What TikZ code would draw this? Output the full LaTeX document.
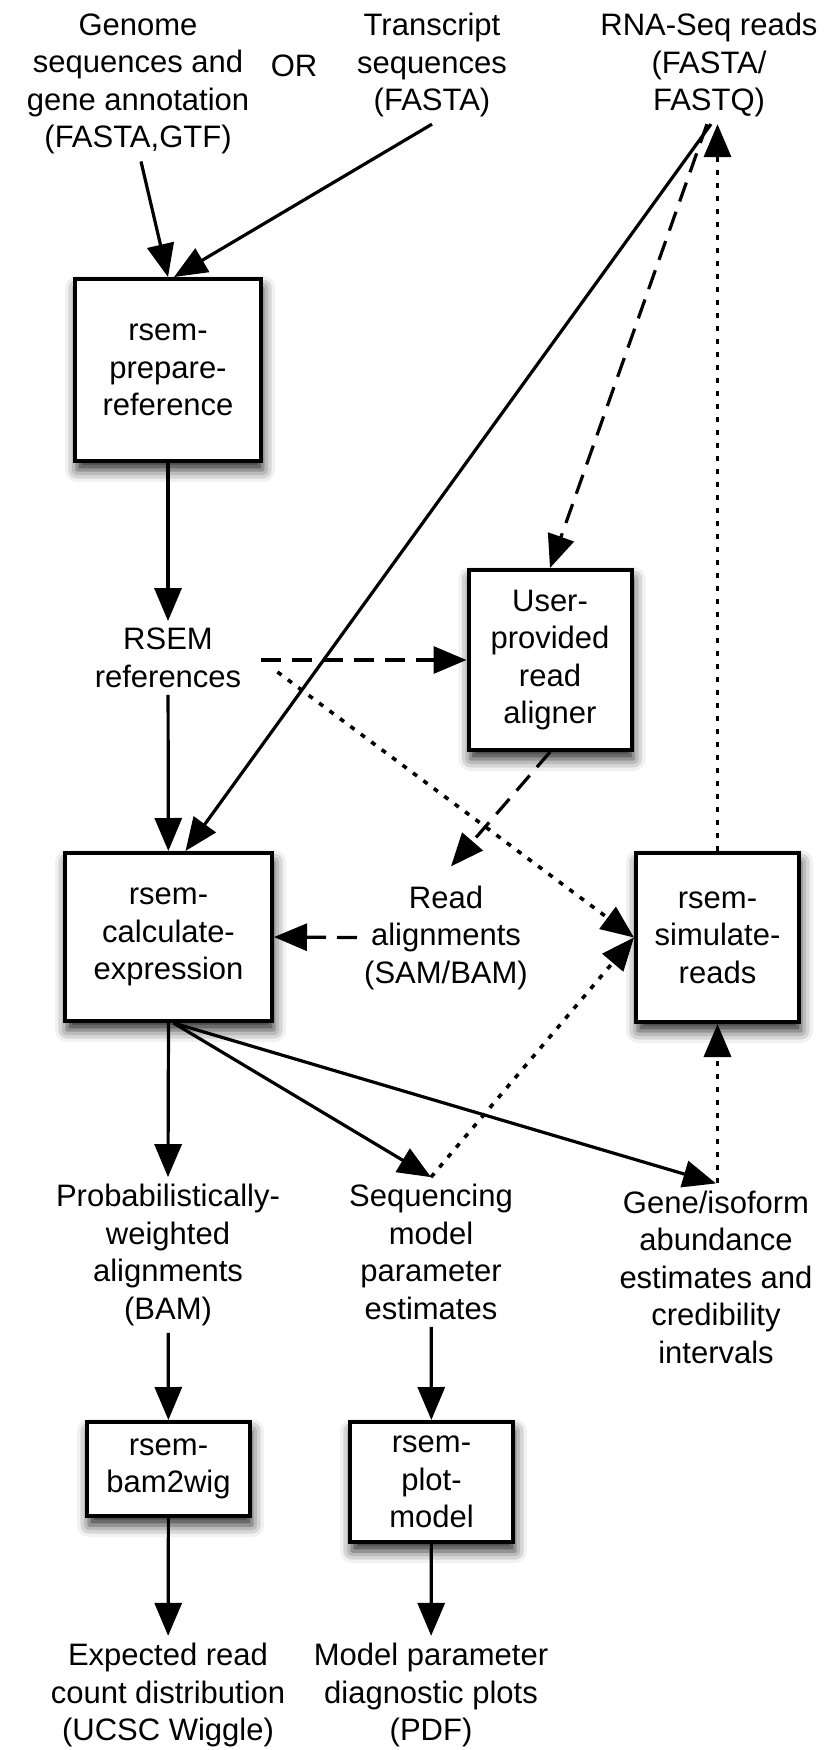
\documentclass[tikz,border=0pt]{standalone}
\usepackage{fontspec}
\setmainfont{Liberation Sans}
\usetikzlibrary{arrows.meta,shadows.blur}

\begin{document}
\begin{tikzpicture}[x=1pt,y=-1pt,
  font=\fontsize{31}{37.5}\selectfont,
  box/.style={rectangle, draw, line width=4pt, fill=white, align=center, inner sep=0pt,
    blur shadow={shadow xshift=2pt, shadow yshift=-9pt, shadow blur radius=12pt, shadow opacity=85}},
  lbl/.style={align=center, inner sep=7pt},
  flow/.style={line width=3.2pt, -{Triangle[length=33pt,width=27pt]}},
  dashflow/.style={flow, dash pattern=on 20pt off 11pt},
  dotflow/.style={flow, line width=3.6pt, dash pattern=on 5pt off 8pt}]
  \useasboundingbox (0,0) rectangle (828,1750);

  % Inputs at the top
  \node[lbl] (genome) at (138,84) {Genome\\sequences and\\gene annotation\\(FASTA,GTF)};
  \node[lbl] (orword) at (294,66) {OR};
  \node[lbl] (transcript) at (432,65) {Transcript\\sequences\\(FASTA)};
  \node[lbl] (rnaseq) at (709,65) {RNA-Seq reads\\(FASTA/\\FASTQ)};

  % Programs and intermediate files
  \node[box, minimum width=186pt, minimum height=182pt] (prepare) at (168,370) {rsem-\\prepare-\\reference};
  \node[lbl] (rsemref) at (168,658) {RSEM\\references};
  \node[box, minimum width=163pt, minimum height=180pt] (aligner) at (550,660) {User-\\provided\\read\\aligner};
  \node[box, minimum width=207pt, minimum height=168pt] (calc) at (168.5,937) {rsem-\\calculate-\\expression};
  \node[lbl] (readaln) at (446,937.5) {Read\\alignments\\(SAM/BAM)};
  \node[box, minimum width=163pt, minimum height=169pt] (simulate) at (717.5,937.5) {rsem-\\simulate-\\reads};

  % Outputs
  \node[lbl] (probweight) at (168,1255) {Probabilistically-\\weighted\\alignments\\(BAM)};
  \node[lbl] (seqmodel) at (431,1252) {Sequencing\\model\\parameter\\estimates};
  \node[lbl] (abundance) at (716,1277) {Gene/isoform\\abundance\\estimates and\\credibility\\intervals};
  \node[box, minimum width=163pt, minimum height=94pt] (bam2wig) at (168.5,1469) {rsem-\\bam2wig};
  \node[box, minimum width=163pt, minimum height=120pt] (plotmodel) at (431.5,1482) {rsem-\\plot-\\model};
  \node[lbl] (expected) at (168,1695) {Expected read\\count distribution\\(UCSC Wiggle)};
  \node[lbl] (diagplots) at (431,1695) {Model parameter\\diagnostic plots\\(PDF)};

  % Arrows
  \draw[flow] ([xshift=3pt]genome.south) -- (prepare.north);
  \draw[flow] (transcript.south) -- ([xshift=6pt]prepare.north);
  \draw[flow] (prepare) -- (rsemref);
  \draw[flow] (rsemref) -- (calc);
  \draw[dashflow] ([xshift=13pt]rsemref.east |- aligner.west) -- (aligner.west);
  \draw[dotflow] ([shift={(29,14)}]rsemref.east) -- (simulate.west);
  \draw[flow] ([xshift=2pt]rnaseq.south) -- ([xshift=17pt]calc.north);
  \draw[dashflow] ([xshift=-2pt]rnaseq.south) -- (aligner.north);
  \draw[dotflow] (simulate.north) -- (simulate.north |- rnaseq.south);
  \draw[dashflow] (aligner.south) -- ([shift={(5,-12)}]readaln.north);
  \draw[dashflow] (readaln.west) -- (calc.east);
  \draw[flow] (calc.south) -- (probweight.north);
  \draw[flow] ([xshift=5pt]calc.south) -- (seqmodel.north);
  \draw[flow] ([xshift=5pt]calc.south) -- (abundance.north);
  \draw[dotflow] (seqmodel.north) -- (simulate.west);
  \draw[dotflow] (simulate.south |- abundance.north) -- (simulate.south);
  \draw[flow] (probweight) -- (bam2wig);
  \draw[flow] (seqmodel) -- (plotmodel);
  \draw[flow] (bam2wig) -- (expected);
  \draw[flow] (plotmodel) -- (diagplots);
\end{tikzpicture}
\end{document}
